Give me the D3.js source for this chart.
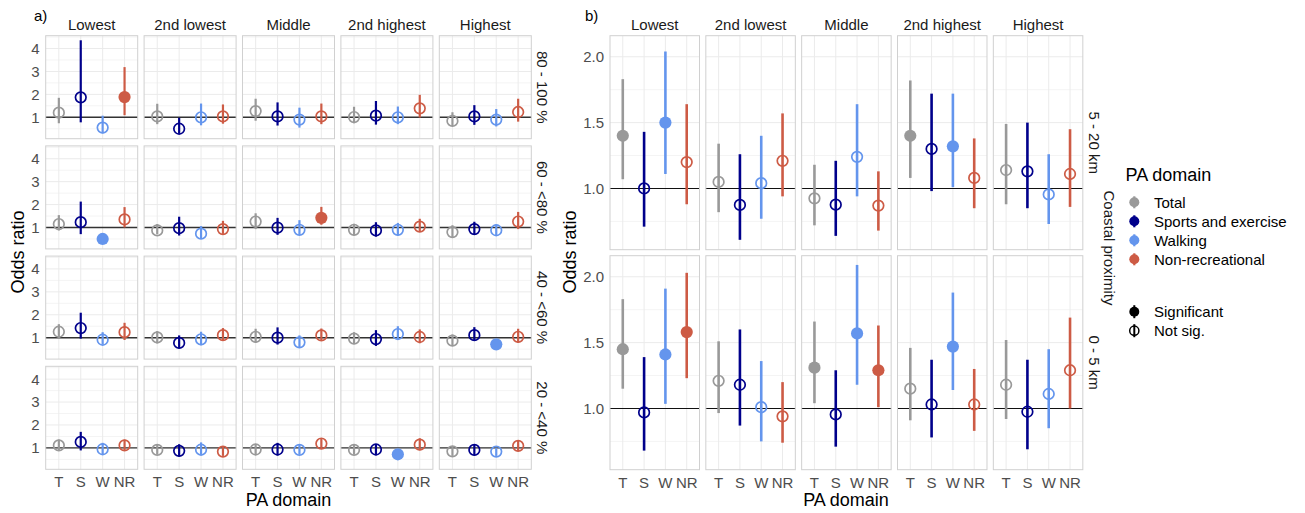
<!DOCTYPE html>
<html><head><meta charset="utf-8">
<script src="https://cdn.jsdelivr.net/npm/d3@7"></script>
<style>
body{margin:0;background:#fff}
svg{display:block}
text{font-family:"Liberation Sans",Arial,sans-serif}
</style>
</head><body>
<svg id="c" width="1305" height="513"></svg>
<script>
// ---------- categories ----------
const paDomains = ["T","S","W","NR"];
const paNames = ["Total","Sports and exercise","Walking","Non-recreational"];
const paColors = ["#999999","#00008B","#6495ED","#CD5B45"];
const quintiles = ["Lowest","2nd lowest","Middle","2nd highest","Highest"];
const greenRows = ["80 - 100 %","60 - <80 %","40 - <60 %","20 - <40 %"];
const coastRows = ["5 - 20 km","0 - 5 km"];
const aTicks = [1,2,3,4];
const aMinor = [0.5,1.5,2.5,3.5,4.5];
const bTicks = [1.0,1.5,2.0];
const bMinor = [0.75,1.25,1.75];
const sigNames = ["Significant","Not sig."];

// ---------- panel a: [greenness row][quintile][domain T,S,W,NR] ----------
const aEst = [
 [[1.20,1.87,0.55,1.88],[1.04,0.50,1.00,1.04],[1.27,1.04,0.90,1.04],[1.01,1.07,1.00,1.39],[0.84,1.04,0.90,1.23]],
 [[1.15,1.23,0.50,1.35],[0.87,0.97,0.73,0.93],[1.26,0.99,0.90,1.42],[0.90,0.87,0.90,1.04],[0.80,0.93,0.88,1.26]],
 [[1.26,1.42,0.91,1.24],[1.01,0.77,0.93,1.11],[1.04,1.00,0.80,1.10],[0.96,0.94,1.16,1.03],[0.87,1.11,0.71,1.04]],
 [[1.11,1.26,0.94,1.11],[0.91,0.87,0.92,0.84],[0.93,0.93,0.91,1.19],[0.91,0.93,0.72,1.14],[0.85,0.91,0.84,1.09]]
];
const aLow = [
 [[0.74,0.78,0.30,1.09],[0.70,0.28,0.65,0.72],[0.85,0.64,0.55,0.70],[0.74,0.68,0.70,0.99],[0.62,0.67,0.60,0.81]],
 [[0.87,0.71,0.42,1.00],[0.70,0.65,0.50,0.72],[0.93,0.68,0.68,1.12],[0.66,0.60,0.65,0.81],[0.58,0.68,0.66,0.93]],
 [[0.96,0.96,0.70,0.90],[0.75,0.53,0.67,0.87],[0.78,0.70,0.57,0.87],[0.72,0.64,0.90,0.76],[0.64,0.87,0.60,0.78]],
 [[0.87,0.89,0.72,0.89],[0.70,0.62,0.70,0.65],[0.70,0.67,0.70,0.96],[0.70,0.68,0.60,0.90],[0.65,0.67,0.65,0.86]]
];
const aHigh = [
 [[1.85,4.36,1.07,3.19],[1.59,0.98,1.60,1.56],[1.81,1.65,1.42,1.60],[1.46,1.71,1.47,1.98],[1.22,1.53,1.36,1.81]],
 [[1.54,2.13,0.60,1.89],[1.15,1.47,1.06,1.29],[1.62,1.42,1.32,1.90],[1.16,1.23,1.20,1.38],[1.10,1.25,1.14,1.68]],
 [[1.59,2.09,1.24,1.65],[1.29,1.10,1.26,1.42],[1.39,1.45,1.10,1.40],[1.24,1.33,1.50,1.36],[1.14,1.46,0.84,1.39]],
 [[1.36,1.70,1.22,1.36],[1.14,1.16,1.24,1.04],[1.17,1.22,1.14,1.42],[1.14,1.17,0.86,1.42],[1.07,1.16,1.01,1.33]]
];
const aSig = [
 [[0,0,0,1],[0,0,0,0],[0,0,0,0],[0,0,0,0],[0,0,0,0]],
 [[0,0,1,0],[0,0,0,0],[0,0,0,1],[0,0,0,0],[0,0,0,0]],
 [[0,0,0,0],[0,0,0,0],[0,0,0,0],[0,0,0,0],[0,0,1,0]],
 [[0,0,0,0],[0,0,0,0],[0,0,0,0],[0,0,1,0],[0,0,0,0]]
];

// ---------- panel b: [coastal row][quintile][domain] ----------
const bEst = [
 [[1.40,1.00,1.50,1.20],[1.05,0.875,1.04,1.21],[0.925,0.877,1.24,0.87],[1.40,1.30,1.32,1.08],[1.14,1.13,0.955,1.11]],
 [[1.45,0.97,1.41,1.58],[1.21,1.18,1.01,0.94],[1.31,0.955,1.57,1.29],[1.15,1.03,1.47,1.03],[1.18,0.975,1.11,1.29]]
];
const bLow = [
 [[1.07,0.71,1.11,0.88],[0.82,0.61,0.77,0.94],[0.72,0.64,0.94,0.68],[1.08,0.98,1.01,0.85],[0.88,0.85,0.73,0.86]],
 [[1.15,0.68,1.035,1.23],[0.965,0.87,0.75,0.74],[1.04,0.71,1.18,1.01],[0.91,0.78,1.14,0.83],[0.92,0.69,0.85,1.00]]
];
const bHigh = [
 [[1.83,1.43,2.04,1.64],[1.34,1.26,1.40,1.57],[1.18,1.21,1.64,1.13],[1.82,1.72,1.72,1.38],[1.49,1.50,1.26,1.45]],
 [[1.83,1.39,1.91,2.03],[1.51,1.60,1.36,1.20],[1.66,1.29,2.09,1.63],[1.46,1.37,1.88,1.30],[1.52,1.37,1.45,1.69]]
];
const bSig = [
 [[1,0,1,0],[0,0,0,0],[0,0,0,0],[1,0,1,0],[0,0,0,0]],
 [[1,0,1,1],[0,0,0,0],[1,0,1,1],[0,0,1,0],[0,0,0,0]]
];

// ---------- drawing ----------
const svg = d3.select("#c");
const TICK = "#4d4d4d", GRID_MAJ = "#ebebeb", GRID_MIN = "#f4f4f4", BORDER = "#d0d0d0";

function drawFacetGrid(cfg){
  const {left0, colStep, w, top0, rowStep, h, domain, ticks, minor, tickFmt,
         est, low, high, sig, rowLabels, stripX, barW, r, refW, refCol} = cfg;
  rowLabels.forEach((rl, ri) => {
    const top = top0 + ri*rowStep;
    const y = d3.scaleLinear().domain(domain).range([top+h, top]);
    ticks.forEach(t => {
      svg.append("text").attr("x", left0 - 6).attr("y", y(t)).attr("dy","0.36em")
        .attr("text-anchor","end").attr("font-size",15).attr("fill",TICK).text(tickFmt(t));
    });
    quintiles.forEach((q, qi) => {
      const left = left0 + qi*colStep;
      const x = d3.scalePoint().domain(paDomains).range([left, left+w]).padding(0.6);
      const g = svg.append("g");
      minor.forEach(t => g.append("line").attr("x1",left).attr("x2",left+w)
        .attr("y1",y(t)).attr("y2",y(t)).attr("stroke",GRID_MIN).attr("stroke-width",1));
      ticks.forEach(t => g.append("line").attr("x1",left).attr("x2",left+w)
        .attr("y1",y(t)).attr("y2",y(t)).attr("stroke",GRID_MAJ).attr("stroke-width",1));
      paDomains.forEach(d => g.append("line").attr("x1",x(d)).attr("x2",x(d))
        .attr("y1",top).attr("y2",top+h).attr("stroke",GRID_MAJ).attr("stroke-width",1));
      g.append("line").attr("x1",left).attr("x2",left+w).attr("y1",y(1)).attr("y2",y(1))
        .attr("stroke",refCol).attr("stroke-width",refW);
      paDomains.forEach((d, di) => {
        const col = paColors[di];
        g.append("line").attr("x1",x(d)).attr("x2",x(d))
          .attr("y1",y(low[ri][qi][di])).attr("y2",y(high[ri][qi][di]))
          .attr("stroke",col).attr("stroke-width",barW);
        const s = sig[ri][qi][di];
        g.append("circle").attr("cx",x(d)).attr("cy",y(est[ri][qi][di]))
          .attr("r", s ? r+0.8 : r)
          .attr("fill", s ? col : "none")
          .attr("stroke", col).attr("stroke-width", s ? 0 : 1.7);
      });
      g.append("rect").attr("x",left).attr("y",top).attr("width",w).attr("height",h)
        .attr("fill","none").attr("stroke",BORDER).attr("stroke-width",1);
      if (ri === 0) {
        svg.append("text").attr("x",left+w/2).attr("y",top-6).attr("text-anchor","middle")
          .attr("font-size",15).attr("fill","#1a1a1a").text(q);
      }
      if (ri === rowLabels.length-1) {
        paDomains.forEach(d => svg.append("text").attr("x",x(d)).attr("y",top+h+18)
          .attr("text-anchor","middle").attr("font-size",15).attr("fill",TICK).text(d));
      }
    });
    svg.append("text").attr("transform",`translate(${stripX},${top+h/2}) rotate(90)`)
      .attr("text-anchor","middle").attr("dy","0.35em").attr("font-size",15)
      .attr("fill","#1a1a1a").text(rl);
  });
}

drawFacetGrid({left0:45.7, colStep:98.4, w:92, top0:35.7, rowStep:110.2, h:103,
  domain:[0.066,4.56], ticks:aTicks, minor:aMinor, tickFmt:d3.format("d"),
  est:aEst, low:aLow, high:aHigh, sig:aSig, rowLabels:greenRows, stripX:542.5, barW:2.2, r:5.3,
  refW:1.4, refCol:"#333"});

drawFacetGrid({left0:610, colStep:95.83, w:89.5, top0:35.7, rowStep:220, h:214,
  domain:[0.535,2.16], ticks:bTicks, minor:bMinor, tickFmt:d3.format(".1f"),
  est:bEst, low:bLow, high:bHigh, sig:bSig, rowLabels:coastRows, stripX:1094, barW:2.6, r:5.3,
  refW:1.1, refCol:"#111"});

svg.append("text").attr("x",34).attr("y",21).attr("font-size",15).text("a)");
svg.append("text").attr("x",585).attr("y",21).attr("font-size",15).text("b)");

[18,569.5].forEach(xx => {
  svg.append("text").attr("transform",`translate(${xx},252) rotate(-90)`).attr("text-anchor","middle")
    .attr("dy","0.35em").attr("font-size",18).attr("fill","#000").text("Odds ratio");
});
svg.append("text").attr("x",288.5).attr("y",506).attr("text-anchor","middle").attr("font-size",18).text("PA domain");
svg.append("text").attr("x",846).attr("y",506).attr("text-anchor","middle").attr("font-size",18).text("PA domain");

svg.append("text").attr("transform","translate(1109,248) rotate(90)").attr("text-anchor","middle")
  .attr("dy","0.35em").attr("font-size",15).attr("fill","#1a1a1a").text("Coastal proximity");

const lg = svg.append("g");
lg.append("text").attr("x",1125.5).attr("y",181).attr("font-size",18).text("PA domain");
const legY = d3.scalePoint().domain(paNames).range([202.3,259.3]);
paNames.forEach((n,i) => {
  const cy = legY(n);
  lg.append("line").attr("x1",1134.3).attr("x2",1134.3).attr("y1",cy-6).attr("y2",cy+6)
    .attr("stroke",paColors[i]).attr("stroke-width",2.2);
  lg.append("circle").attr("cx",1134.3).attr("cy",cy).attr("r",5).attr("fill",paColors[i]);
  lg.append("text").attr("x",1154).attr("y",cy).attr("dy","0.36em").attr("font-size",15).text(n);
});
const sigY = d3.scalePoint().domain(sigNames).range([311.7,330.7]);
sigNames.forEach((n,i) => {
  const cy = sigY(n);
  lg.append("line").attr("x1",1134.3).attr("x2",1134.3).attr("y1",cy-6.5).attr("y2",cy+6.5)
    .attr("stroke","#000").attr("stroke-width",2);
  lg.append("circle").attr("cx",1134.3).attr("cy",cy).attr("r", i===0 ? 5 : 4.6)
    .attr("fill", i===0 ? "#000" : "none").attr("stroke","#000").attr("stroke-width", i===0 ? 0 : 1.5);
  lg.append("text").attr("x",1154).attr("y",cy).attr("dy","0.36em").attr("font-size",15).text(n);
});
</script>
</body></html>
